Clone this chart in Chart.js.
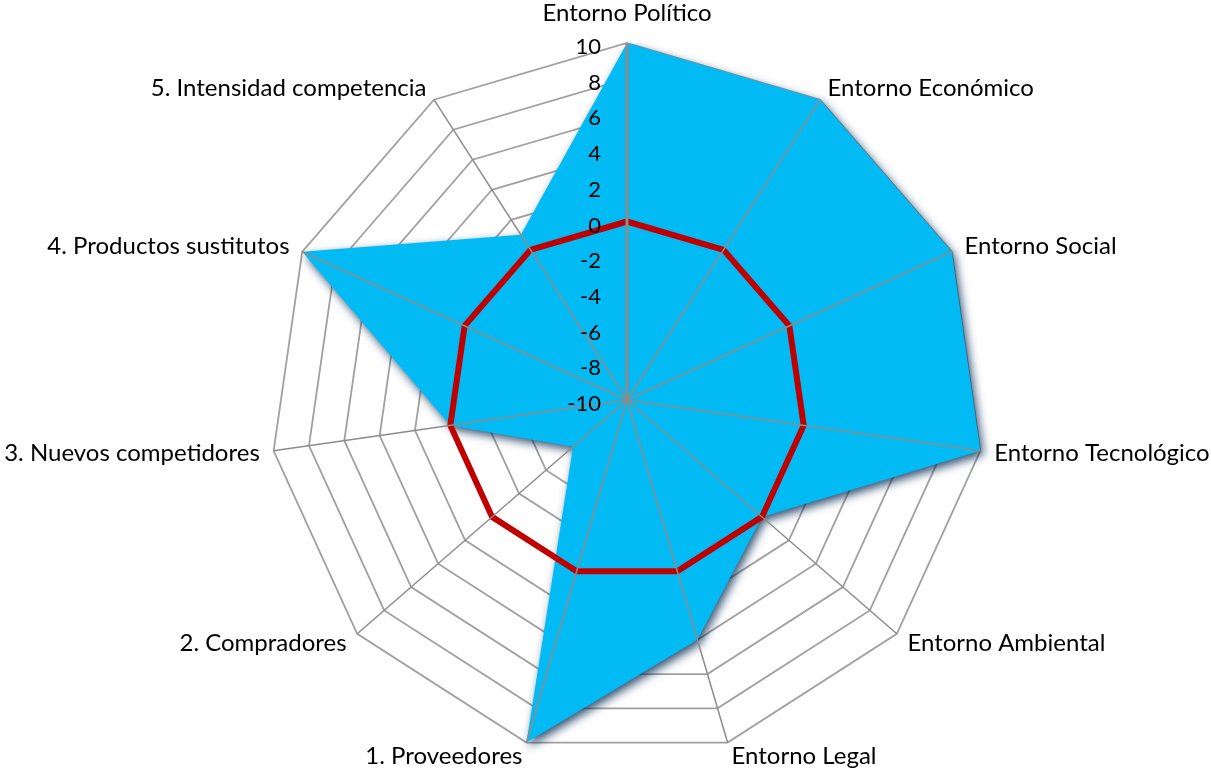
<!DOCTYPE html>
<html lang="es">
<head>
<meta charset="utf-8">
<title>Radar entorno y fuerzas competitivas</title>
<script src="https://cdn.jsdelivr.net/npm/chart.js@4.4.1/dist/chart.umd.min.js"></script>
<style>
  html, body { margin: 0; padding: 0; background: #fff; }
  canvas { display: block; }
</style>
</head>
<body>
<canvas id="chart" width="1211" height="772"></canvas>
<script>
const categorias = [
    'Entorno Político', 'Entorno Económico', 'Entorno Social', 'Entorno Tecnológico',
    'Entorno Ambiental', 'Entorno Legal', '1. Proveedores', '2. Compradores',
    '3. Nuevos competidores', '4. Productos sustitutos', '5. Intensidad competencia'
];
const valoracion = [10, 10, 10, 10, 0, 4, 10, -6, 0, 10, 1];
const referencia = [0, 0, 0, 0, 0, 0, 0, 0, 0, 0, 0];
const valoresEje = [-10, -8, -6, -4, -2, 0, 2, 4, 6, 8, 10];

// sombra del relleno azul (imita el bisel de Excel)
const sombraRelleno = {
    id: 'sombraRelleno',
    beforeDatasetsDraw(chart) {
        const ctx = chart.ctx;
        ctx.shadowColor = 'rgba(0, 40, 80, 0.8)';
        ctx.shadowBlur = 10;
        ctx.shadowOffsetX = 3;
        ctx.shadowOffsetY = 4;
    },
    afterDatasetDraw(chart, args) {
        if (args.index !== 0) return;
        const ctx = chart.ctx;
        ctx.shadowColor = 'rgba(0, 0, 0, 0)';
        ctx.shadowBlur = 0;
        ctx.shadowOffsetX = 0;
        ctx.shadowOffsetY = 0;
    }
};

// ejes radiales, valores y etiquetas por encima de las series
const ejesYEtiquetas = {
    id: 'ejesYEtiquetas',
    afterDatasetsDraw(chart) {
        const ctx = chart.ctx;
        const r = chart.scales.r;
        const n = chart.data.labels.length;
        ctx.save();
        for (let i = 0; i < n; i++) {
            const p = r.getPointPosition(i, r.drawingArea);
            ctx.beginPath();
            ctx.moveTo(r.xCenter, r.yCenter);
            ctx.lineTo(p.x, p.y);
            ctx.strokeStyle = '#8C8C8C';
            ctx.lineWidth = i === 0 ? 3 : 1.5;
            ctx.stroke();
        }

        ctx.fillStyle = '#000';
        ctx.font = '22px Lato';
        ctx.textAlign = 'right';
        ctx.textBaseline = 'alphabetic';
        r.ticks.forEach(t => {
            const y = r.yCenter - r.getDistanceFromCenterForValue(t.value);
            ctx.fillText(String(t.value), r.xCenter - 26, y + 11);
        });

        ctx.font = '24px Lato';
        chart.data.labels.forEach((lab, i) => {
            const p = r.getPointPosition(i, r.drawingArea + 14);
            const dx = p.x - r.xCenter;
            let y = p.y + 8.5;
            if (Math.abs(dx) < 1) {
                ctx.textAlign = 'center';
                y = p.y - 8;
            } else {
                ctx.textAlign = dx > 0 ? 'left' : 'right';
            }
            ctx.fillText(lab, p.x, y);
        });
        ctx.restore();
    }
};

const ctx = document.getElementById('chart').getContext('2d');
new Chart(ctx, {
    type: 'radar',
    data: {
        labels: categorias,
        datasets: [{
            label: 'Valoración',
            data: valoracion,
            backgroundColor: '#03BBF4',
            borderColor: 'rgba(0, 0, 0, 0)',
            borderWidth: 1,
            fill: 'start',
            pointRadius: 0,
            order: 1
        }, {
            label: 'Referencia',
            data: referencia,
            borderColor: '#C00000',
            borderWidth: 6,
            fill: false,
            pointRadius: 0,
            order: 0
        }]
    },
    options: {
        responsive: false,
        animation: false,
        layout: { padding: { left: 247, right: 204, top: 43, bottom: 15 } },
        plugins: {
            legend: { display: false },
            tooltip: { enabled: false }
        },
        scales: {
            r: {
                min: valoresEje[0],
                max: valoresEje[valoresEje.length - 1],
                ticks: { stepSize: valoresEje[1] - valoresEje[0], display: false },
                grid: { circular: false, color: '#A0A0A0', lineWidth: 1.8 },
                angleLines: { display: false },
                pointLabels: { display: false }
            }
        }
    },
    plugins: [sombraRelleno, ejesYEtiquetas]
});
</script>
</body>
</html>
